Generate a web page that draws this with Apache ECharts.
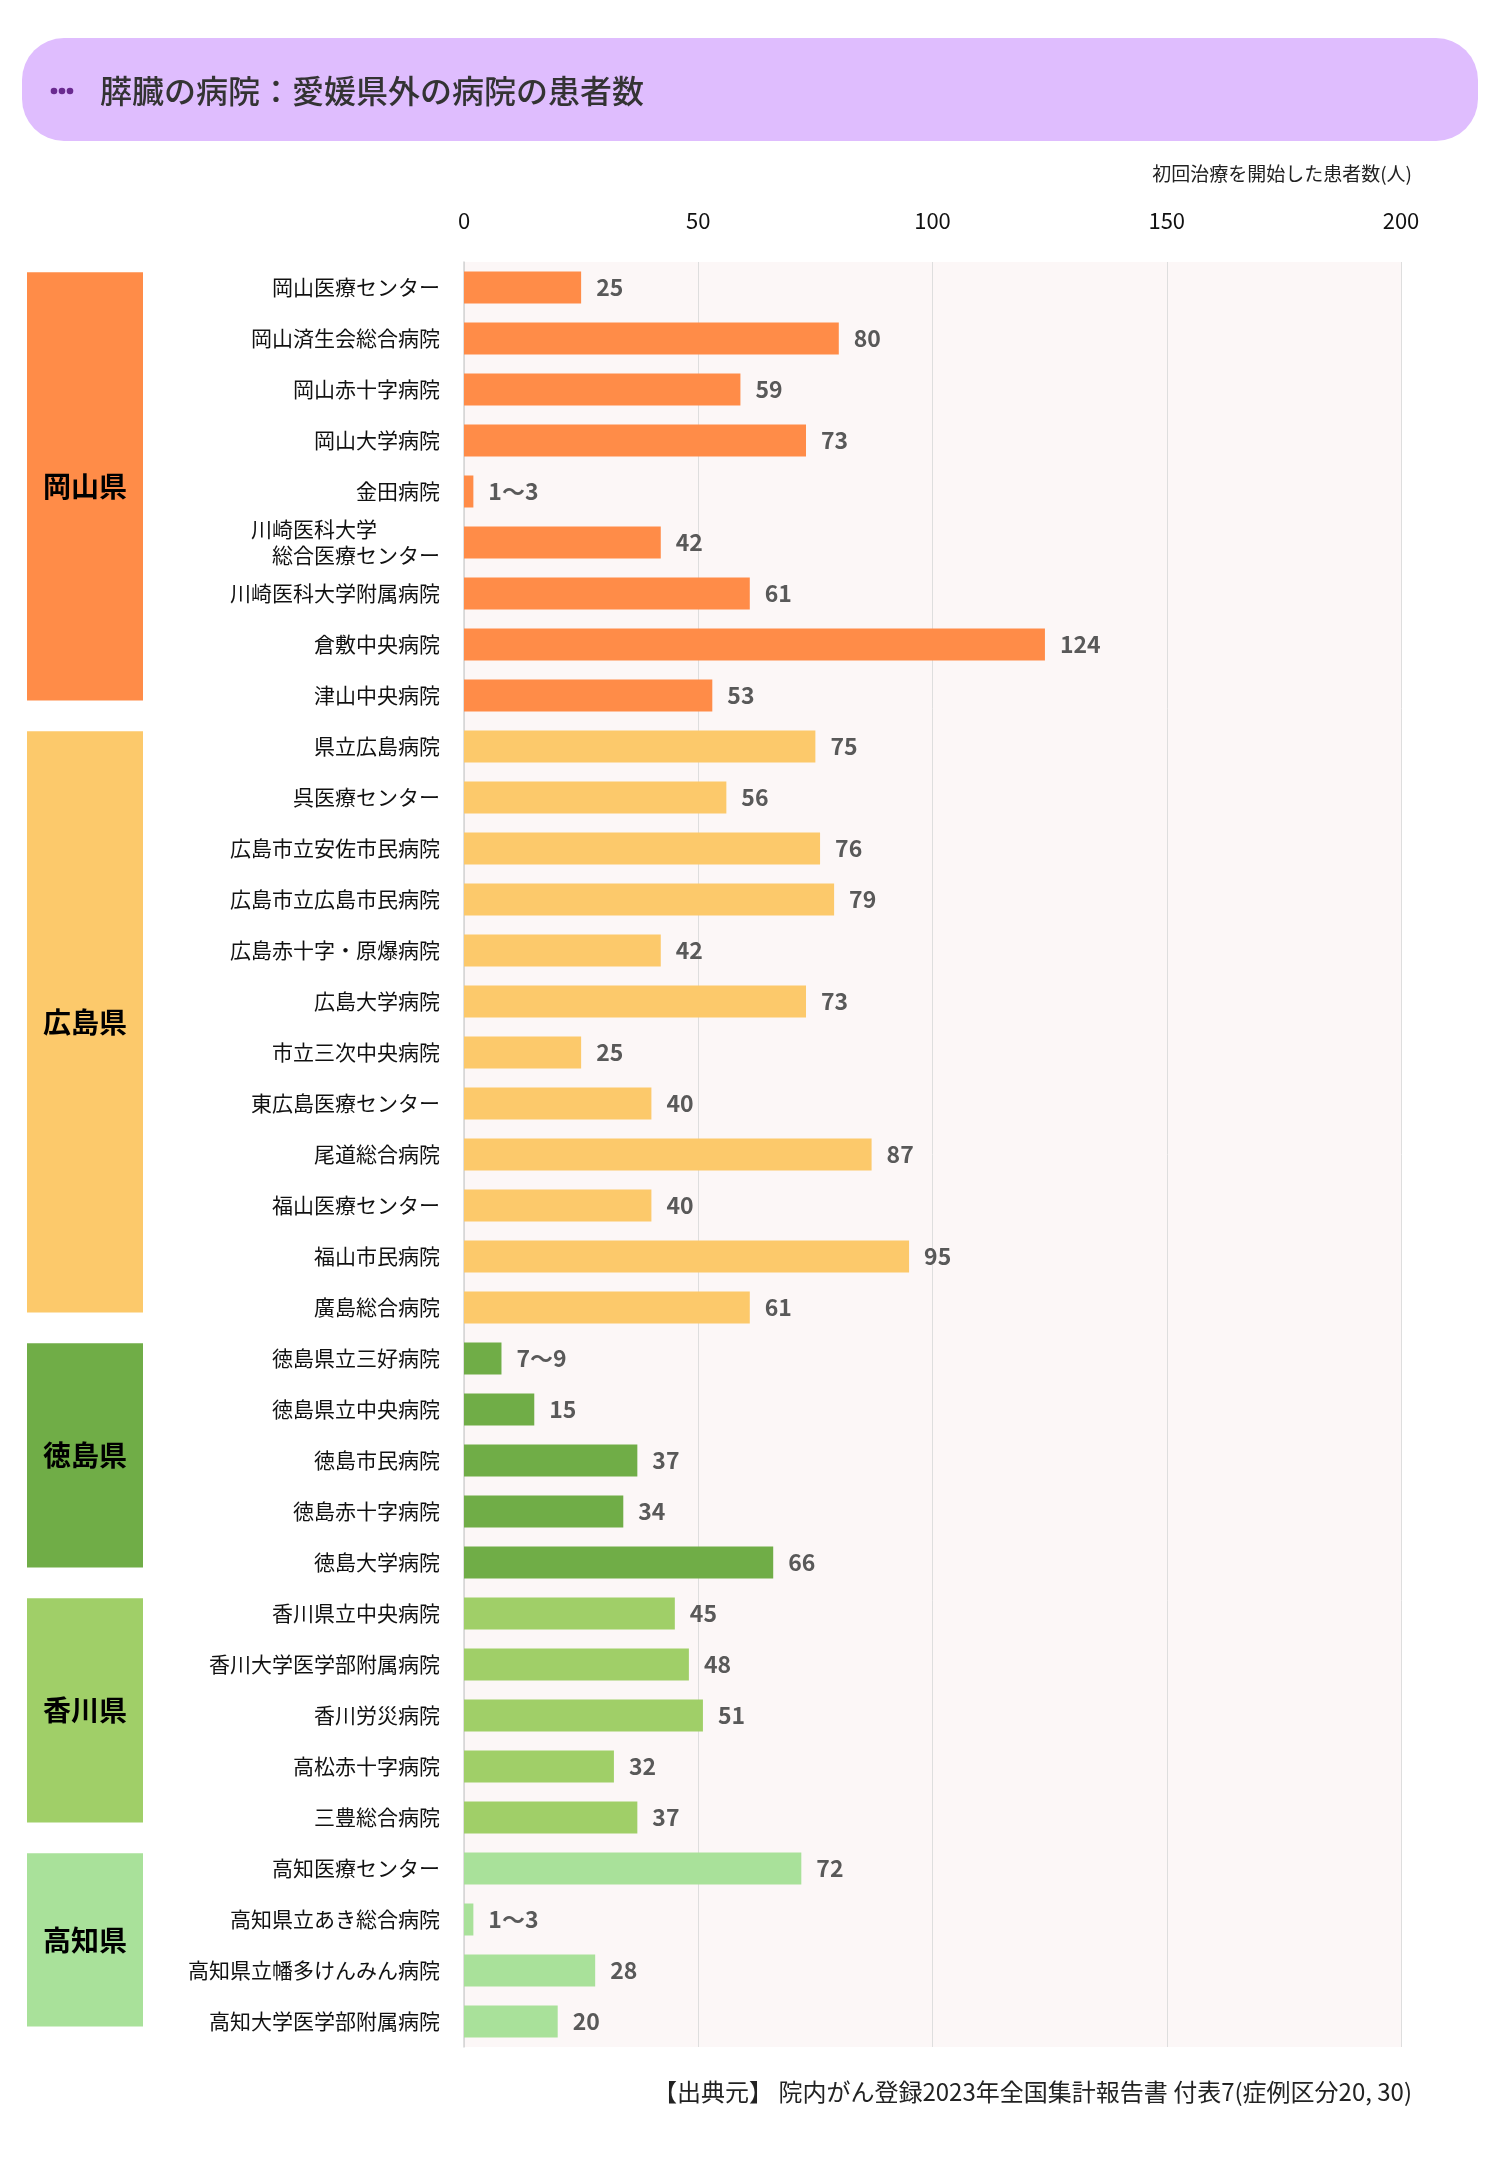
<!DOCTYPE html>
<html><head><meta charset="utf-8">
<script src="https://cdn.jsdelivr.net/npm/echarts@6/dist/echarts.min.js"></script>
<style>html,body{margin:0;padding:0;background:#fff}#c{width:1500px;height:2160px}</style>
</head><body><div id="c"></div>
<script>
const chartTitle = '膵臓の病院：愛媛県外の病院の患者数';
const axisTitle = '初回治療を開始した患者数(人)';
const sourceNote = '【出典元】 院内がん登録2023年全国集計報告書 付表7(症例区分20, 30)';

const hospitals = [
  '岡山医療センター','岡山済生会総合病院','岡山赤十字病院','岡山大学病院','金田病院',
  '川崎医科大学　　　\n　総合医療センター','川崎医科大学附属病院','倉敷中央病院','津山中央病院',
  '県立広島病院','呉医療センター','広島市立安佐市民病院','広島市立広島市民病院','広島赤十字・原爆病院',
  '広島大学病院','市立三次中央病院','東広島医療センター','尾道総合病院','福山医療センター','福山市民病院','廣島総合病院',
  '徳島県立三好病院','徳島県立中央病院','徳島市民病院','徳島赤十字病院','徳島大学病院',
  '香川県立中央病院','香川大学医学部附属病院','香川労災病院','高松赤十字病院','三豊総合病院',
  '高知医療センター','高知県立あき総合病院','高知県立幡多けんみん病院','高知大学医学部附属病院'
];
const patients = [
  25, 80, 59, 73, 2, 42, 61, 124, 53,
  75, 56, 76, 79, 42, 73, 25, 40, 87, 40, 95, 61,
  8, 15, 37, 34, 66,
  45, 48, 51, 32, 37,
  72, 2, 28, 20
];
const patientLabels = [
  '25','80','59','73','1～3','42','61','124','53',
  '75','56','76','79','42','73','25','40','87','40','95','61',
  '7～9','15','37','34','66',
  '45','48','51','32','37',
  '72','1～3','28','20'
];
const prefectures = ['岡山県','広島県','徳島県','香川県','高知県'];
const prefCounts = [9, 12, 5, 5, 4];
const xMin = 0, xMax = 200, xStep = 50;

const prefColors = ['#ff8c48','#fcc96b','#70ad47','#a0cf68','#a9e19a'];
const FONT = '"Noto Sans CJK JP", "Noto Sans", sans-serif';

const prefOf = [];
const prefRanges = [];
let k = 0;
prefCounts.forEach((n, p) => {
  prefRanges.push([k, k + n - 1]);
  for (let i = 0; i < n; i++) prefOf.push(p);
  k += n;
});

const chart = echarts.init(document.getElementById('c'), null, {renderer: 'canvas'});
const option = {
  backgroundColor: '#ffffff',
  animation: false,
  grid: [
    {left: 464, right: 99, top: 262, bottom: 113, show: true, backgroundColor: '#fcf7f7', borderWidth: 0},
    {left: 27, width: 116, top: 262, bottom: 113}
  ],
  xAxis: [
    {gridIndex: 0, type: 'value', position: 'top', min: xMin, max: xMax, interval: xStep,
     axisLine: {show: false}, axisTick: {show: false},
     axisLabel: {fontSize: 22, color: '#111', margin: 30, fontFamily: FONT},
     splitLine: {lineStyle: {color: '#dedede', width: 1}}},
    {gridIndex: 1, type: 'value', min: 0, max: 1, show: false}
  ],
  yAxis: [
    {gridIndex: 0, type: 'category', data: hospitals, inverse: true,
     axisLine: {lineStyle: {color: '#d4d4d4', width: 1.5}}, axisTick: {show: false},
     axisLabel: {fontSize: 21, color: '#111', margin: 24, fontFamily: FONT, lineHeight: 26,
                 padding: [0, 0, 6, 0]}},
    {gridIndex: 1, type: 'category', data: hospitals, inverse: true, show: false}
  ],
  series: [
    {type: 'bar', xAxisIndex: 0, yAxisIndex: 0, barWidth: 32,
     data: patients.map((v, i) => ({value: v, itemStyle: {color: prefColors[prefOf[i]]}})),
     label: {show: true, position: 'right', distance: 15,
       formatter: p => patientLabels[p.dataIndex],
       fontSize: 23, fontWeight: 'bold', color: '#595959', fontFamily: FONT}},
    {type: 'custom', xAxisIndex: 1, yAxisIndex: 1, data: prefRanges,
     renderItem: (params, api) => {
       const s = api.value(0), e = api.value(1);
       const band = api.size([0, 1])[1];
       const pS = api.coord([0, s]);
       const pE = api.coord([1, e]);
       const top = pS[1] - band * 0.3;
       const bottom = pE[1] + band * 0.1;
       return {type: 'group', children: [
         {type: 'rect', shape: {x: pS[0], y: top, width: pE[0] - pS[0], height: bottom - top},
          style: {fill: prefColors[params.dataIndex]}},
         {type: 'text', x: (pS[0] + pE[0]) / 2, y: (top + bottom) / 2,
          style: {text: prefectures[params.dataIndex], fill: '#000', fontSize: 28, fontWeight: 'bold',
                  fontFamily: FONT, align: 'center', verticalAlign: 'middle'}}
       ]};
     }}
  ],
  graphic: [
    {type: 'rect', shape: {x: 22, y: 38, width: 1456, height: 103, r: 42}, style: {fill: '#dfbdfe'}},
    {type: 'circle', shape: {cx: 54, cy: 91, r: 3.3}, style: {fill: '#6a2a90'}},
    {type: 'circle', shape: {cx: 62, cy: 91, r: 3.3}, style: {fill: '#6a2a90'}},
    {type: 'circle', shape: {cx: 70, cy: 91, r: 3.3}, style: {fill: '#6a2a90'}},
    {type: 'text', x: 100, y: 91, style: {text: chartTitle, fontSize: 32, fontWeight: 500, fill: '#333',
      fontFamily: FONT, verticalAlign: 'middle'}},
    {type: 'text', x: 1412, y: 174, style: {text: axisTitle, fontSize: 19, fill: '#222', fontFamily: FONT,
      align: 'right', verticalAlign: 'middle'}},
    {type: 'text', x: 1412, y: 2092, style: {text: sourceNote, fontSize: 24, fill: '#222', fontFamily: FONT,
      align: 'right', verticalAlign: 'middle'}}
  ]
};
chart.setOption(option);
</script>
</body></html>
